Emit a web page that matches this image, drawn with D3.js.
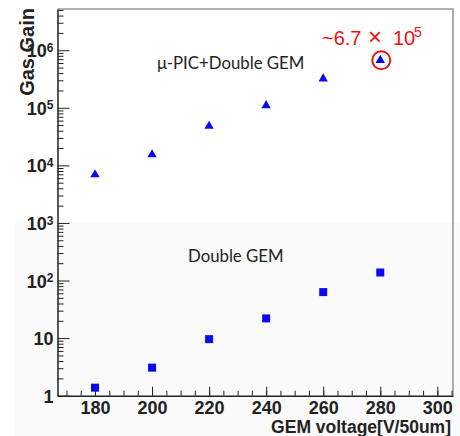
<!DOCTYPE html>
<html>
<head>
<meta charset="utf-8">
<script src="https://cdn.jsdelivr.net/npm/d3@7"></script>
<style>
  body { margin: 0; background: #fff; }
  svg { display: block; }
  .axis text { font-family: "Liberation Sans", Arial, sans-serif; font-weight: bold; font-size: 18px; fill: #222; }
  .axis path, .axis line { stroke: #222; }
</style>
</head>
<body>
<div class="chart"></div>
<script>
// values
var voltages = [180, 200, 220, 240, 260, 280];
var gainPicGem = [6900, 15400, 48000, 110000, 320000, 670000];   // triangles
var gainDoubleGem = [1.38, 3.07, 9.6, 22, 63, 138];              // squares
var xTickValues = [180, 200, 220, 240, 260, 280, 300];
var xMinorValues = d3.range(170, 306, 5);
var yTickValues = [1, 10, 100, 1000, 10000, 100000, 1000000];
var seriesLabels = ["\u03bc-PIC+Double GEM", "Double GEM"];
var xTitle = "GEM voltage[V/50um]";
var yTitle = "Gas Gain";

var W = 460, H = 436;
var plot = { left: 57.5, right: 453, top: 9, bottom: 395.7 };

var svg = d3.select(".chart").append("svg")
  .attr("width", W)
  .attr("height", H);

// faint grey lower half of the slide
svg.append("rect")
  .attr("x", 15).attr("y", 222)
  .attr("width", W - 15).attr("height", H - 222)
  .attr("fill", "#fafafa");

var x = d3.scaleLinear().domain([166.85, 305.5]).range([plot.left, plot.right]);
var y = d3.scaleLog().domain([1, 5.2e6]).range([plot.bottom, plot.top]);

// frame (top + right are grey)
svg.append("path")
  .attr("d", "M" + plot.left + "," + plot.top + "H" + plot.right + "V" + plot.bottom)
  .attr("fill", "none")
  .attr("stroke", "#999")
  .attr("stroke-width", 1.6);

// minor y ticks: 2..9 of each decade
var yMinor = [];
for (var k = 0; k < 7; k++) {
  for (var m = 2; m <= 9; m++) {
    var v = m * Math.pow(10, k);
    if (v <= 5.2e6) yMinor.push(v);
  }
}

svg.append("g")
  .attr("class", "axis")
  .attr("transform", "translate(" + plot.left + ",0)")
  .call(d3.axisLeft(y).tickValues(yMinor).tickSize(-6).tickFormat(""))
  .call(g => g.select(".domain").remove());

var yAx = svg.append("g")
  .attr("class", "axis")
  .attr("transform", "translate(" + plot.left + ",0)")
  .call(d3.axisLeft(y).tickValues(yTickValues).tickSizeInner(-12).tickSizeOuter(0).tickPadding(4).tickFormat(""));
yAx.select(".domain").attr("stroke-width", 1.5);

yAx.selectAll(".tick text").each(function (d) {
  var t = d3.select(this).attr("x", -4).attr("dy", "0.36em");
  if (d < 100) {
    t.text(d);
  } else {
    var e = Math.round(Math.log10(d));
    t.append("tspan").text("10");
    t.append("tspan").attr("dy", "-0.45em").attr("font-size", "12px").text(e);
  }
});

// x axis: minor then major ticks, pointing into the plot
svg.append("g")
  .attr("class", "axis")
  .attr("transform", "translate(0," + plot.bottom + ")")
  .call(d3.axisBottom(x).tickValues(xMinorValues).tickSize(-5).tickFormat(""))
  .call(g => g.select(".domain").remove());

var xAx = svg.append("g")
  .attr("class", "axis")
  .attr("transform", "translate(0," + plot.bottom + ")")
  .call(d3.axisBottom(x).tickValues(xTickValues).tickSizeInner(-9).tickSizeOuter(0).tickPadding(6));
xAx.select(".domain").attr("stroke-width", 1.5);

// axis titles
svg.append("text")
  .attr("x", 451).attr("y", 433)
  .attr("text-anchor", "end")
  .style("font-family", "Liberation Sans, Arial, sans-serif")
  .style("font-weight", "bold")
  .style("font-size", "17.5px")
  .attr("fill", "#222")
  .text(xTitle);

svg.append("text")
  .attr("transform", "translate(34,8) rotate(-90)")
  .attr("text-anchor", "end")
  .style("font-family", "Liberation Sans, Arial, sans-serif")
  .style("font-weight", "bold")
  .style("font-size", "20px")
  .attr("fill", "#222")
  .text(yTitle);

// markers
var blue = "#0a0aee";
var tri = d3.symbol().type(d3.symbolTriangle).size(38);

svg.selectAll(".tri")
  .data(voltages)
  .enter().append("path")
  .attr("class", "tri")
  .attr("transform", (d, i) => "translate(" + x(d) + "," + y(gainPicGem[i]) + ")")
  .attr("d", tri)
  .attr("fill", blue);

svg.selectAll(".sq")
  .data(voltages)
  .enter().append("rect")
  .attr("class", "sq")
  .attr("x", d => x(d) - 4)
  .attr("y", (d, i) => y(gainDoubleGem[i]) - 4)
  .attr("width", 8).attr("height", 8)
  .attr("fill", blue);

// series labels
svg.append("text")
  .attr("x", 157).attr("y", 68.5)
  .style("font-family", "Lato, 'Open Sans', sans-serif")
  .style("font-size", "16.8px")
  .attr("fill", "#222")
  .text(seriesLabels[0]);

svg.append("text")
  .attr("x", 188).attr("y", 261.5)
  .style("font-family", "Lato, 'Open Sans', sans-serif")
  .style("font-size", "16.8px")
  .attr("fill", "#222")
  .text(seriesLabels[1]);

// highlighted top point
var last = voltages.length - 1;
svg.append("circle")
  .attr("cx", x(voltages[last]) + 1)
  .attr("cy", y(gainPicGem[last]))
  .attr("r", 9)
  .attr("fill", "none")
  .attr("stroke", "#ee1111")
  .attr("stroke-width", 2);

var note = svg.append("text")
  .attr("y", 45)
  .style("font-family", "Liberation Sans, Arial, sans-serif")
  .style("font-size", "20px")
  .attr("fill", "#ee1111");
note.append("tspan").attr("x", 322).text("~6.7");
note.append("tspan").attr("x", 368).attr("font-size", "24px").text("\u00d7");
note.append("tspan").attr("x", 393).text("10");
note.append("tspan").attr("x", 414).attr("dy", "-0.55em").attr("font-size", "14px").text("5");
</script>
</body>
</html>
